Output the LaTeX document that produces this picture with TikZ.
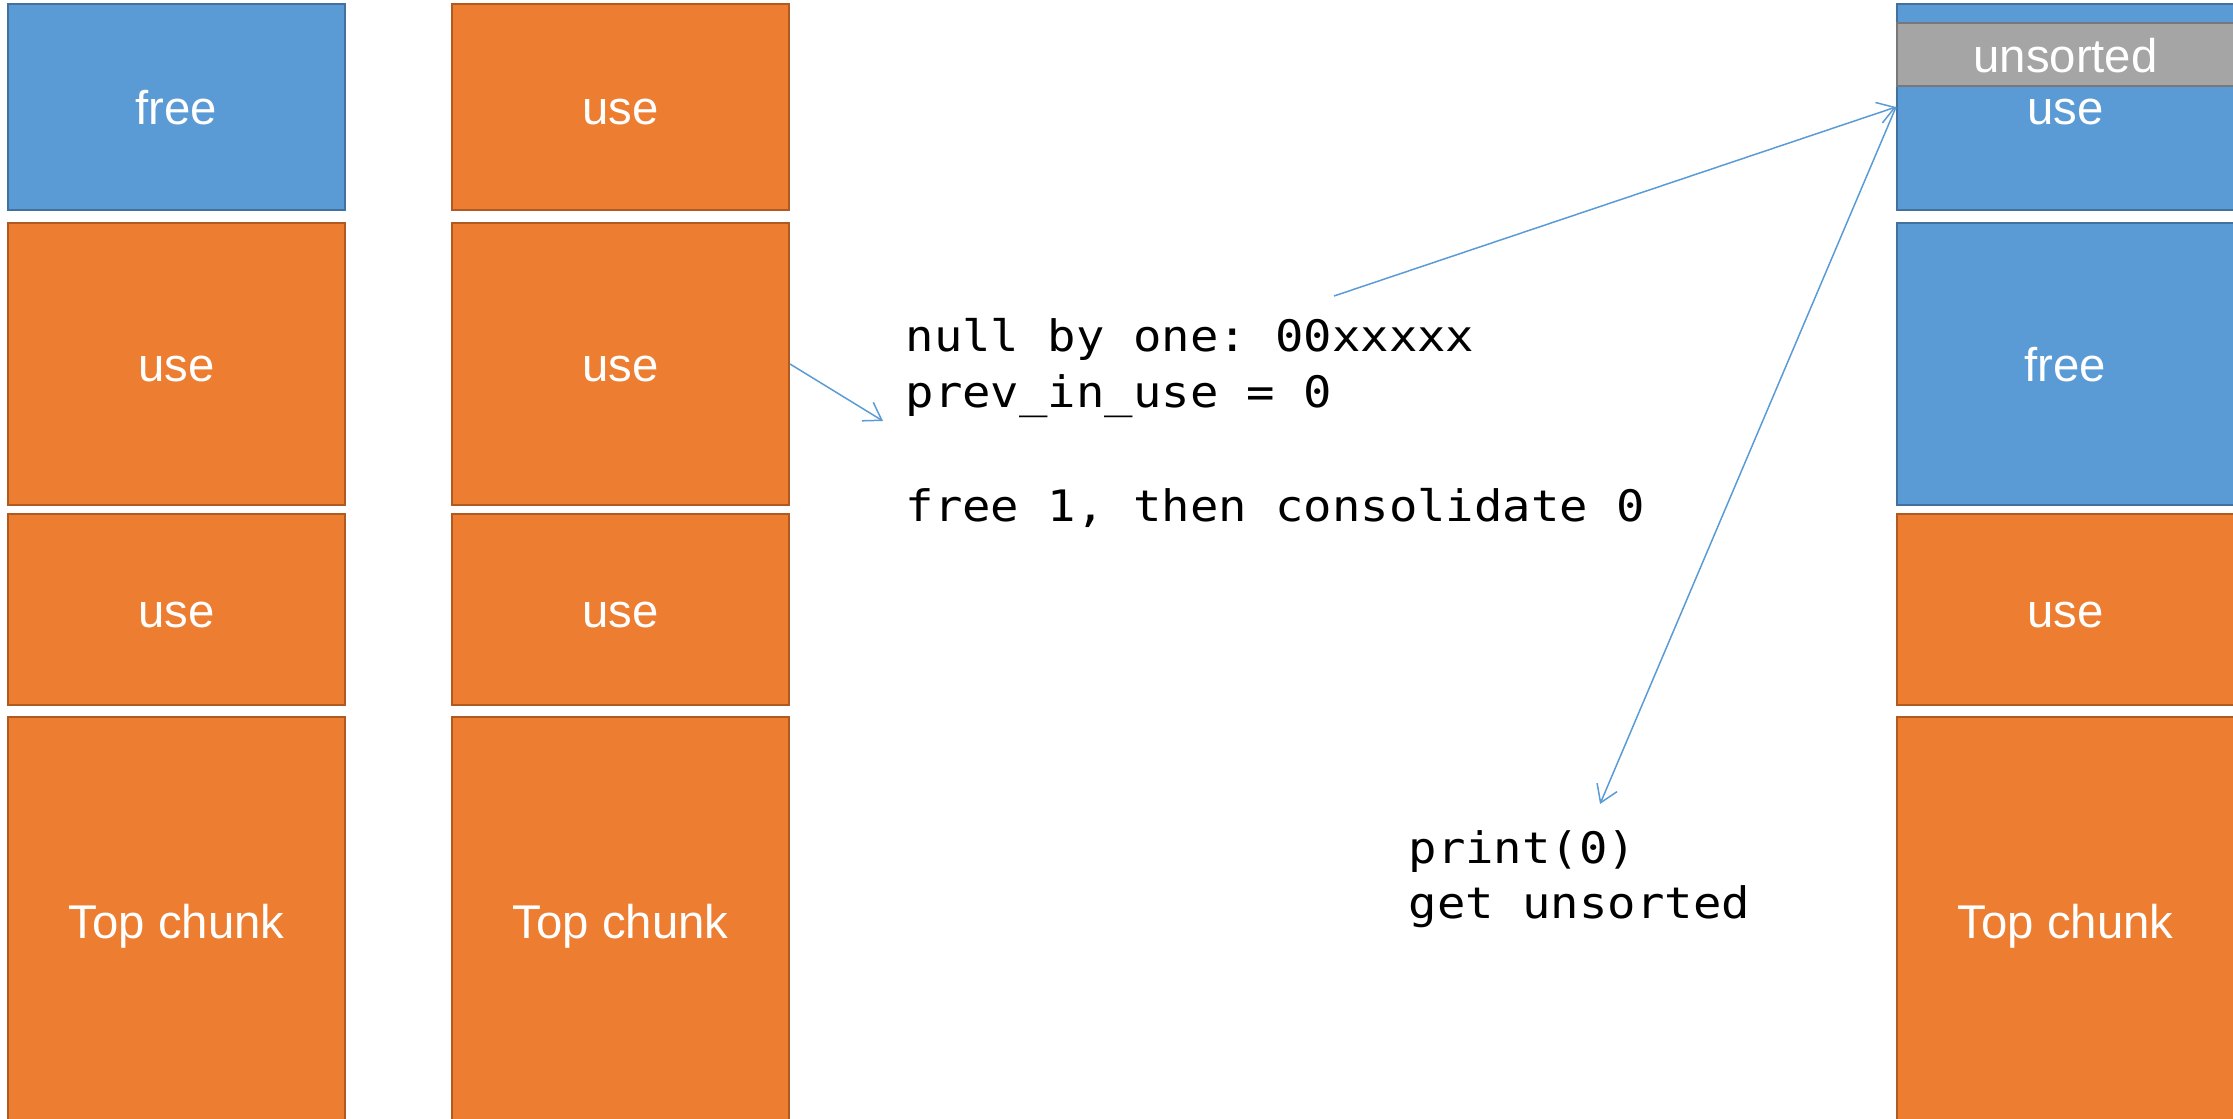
\documentclass[tikz,border=0pt]{standalone}
\usepackage{fontspec}
\setmainfont{Liberation Sans}
\newfontfamily\codefont[FakeStretch=1.09]{DejaVu Sans Mono}
\usetikzlibrary{arrows.meta}
\frenchspacing
\definecolor{useor}{HTML}{ED7D31}
\definecolor{useorD}{HTML}{AE5A21}
\definecolor{freebl}{HTML}{5B9BD5}
\definecolor{freeblD}{HTML}{41719C}
\definecolor{binfill}{HTML}{A5A5A5}
\definecolor{binD}{HTML}{787878}
\definecolor{linkbl}{HTML}{5B9BD5}
\tikzset{
  chunk/.style={draw, line width=0.6pt, anchor=north west, inner sep=0pt,
    text=white, font=\fontsize{14.2}{17}\selectfont, minimum width=101.1pt,
    text height=10.6pt, text depth=0pt},
  usechunk/.style={chunk, fill=useor, draw=useorD},
  freechunk/.style={chunk, fill=freebl, draw=freeblD},
  binchunk/.style={chunk, fill=binfill, draw=binD},
  codeline/.style={font=\codefont\fontsize{13}{16.8}\selectfont, anchor=base west, inner sep=0pt, text=black},
  link/.style={draw=linkbl, line width=0.45pt, -{Straight Barb[length=5pt,width=6.5pt]}}
}
\begin{document}
\begin{tikzpicture}[x=0.3pt,y=-0.3pt]
\path[use as bounding box, clip] (0,0) rectangle (2233,1118);
% column 1
\node[freechunk, minimum height=61.8pt] (c1r1) at (7,3) {free};
\node[usechunk, minimum height=84.6pt] (c1r2) at (7,222) {use};
\node[usechunk, minimum height=57.3pt] (c1r3) at (7,513) {use};
\node[usechunk, minimum height=122.4pt] (c1r4) at (7,716) {Top chunk};
% column 2
\node[usechunk, minimum height=61.8pt] (c2r1) at (451,3) {use};
\node[usechunk, minimum height=84.6pt] (c2r2) at (451,222) {use};
\node[usechunk, minimum height=57.3pt] (c2r3) at (451,513) {use};
\node[usechunk, minimum height=122.4pt] (c2r4) at (451,716) {Top chunk};
% column 3
\node[freechunk, minimum height=61.8pt] (c3r1) at (1896,3) {use};
\node[binchunk, minimum height=18.9pt] (bin) at (1896,22) {unsorted};
\node[freechunk, minimum height=84.6pt] (c3r2) at (1896,222) {free};
\node[usechunk, minimum height=57.3pt] (c3r3) at (1896,513) {use};
\node[usechunk, minimum height=122.4pt] (c3r4) at (1896,716) {Top chunk};
% code text
\node[codeline] (t1) at (905,351) {null by one: 00xxxxx};
\node[codeline] (t2) at (905,407) {prev\_in\_use = 0};
\node[codeline] (t3) at (905,521) {free 1, then consolidate 0};
\node[codeline] (p1) at (1408,863) {print(0)};
\node[codeline] (p2) at (1408,918) {get unsorted};
% connectors
\coordinate (a1) at (883,421);
\coordinate (a2) at (1334,296);
\coordinate (a3) at (1600,804);
\draw[link] (c2r2.east) -- (a1);
\draw[link] (a2) -- (c3r1.west);
\draw[link] (c3r1.west) -- (a3);
\end{tikzpicture}
\end{document}
